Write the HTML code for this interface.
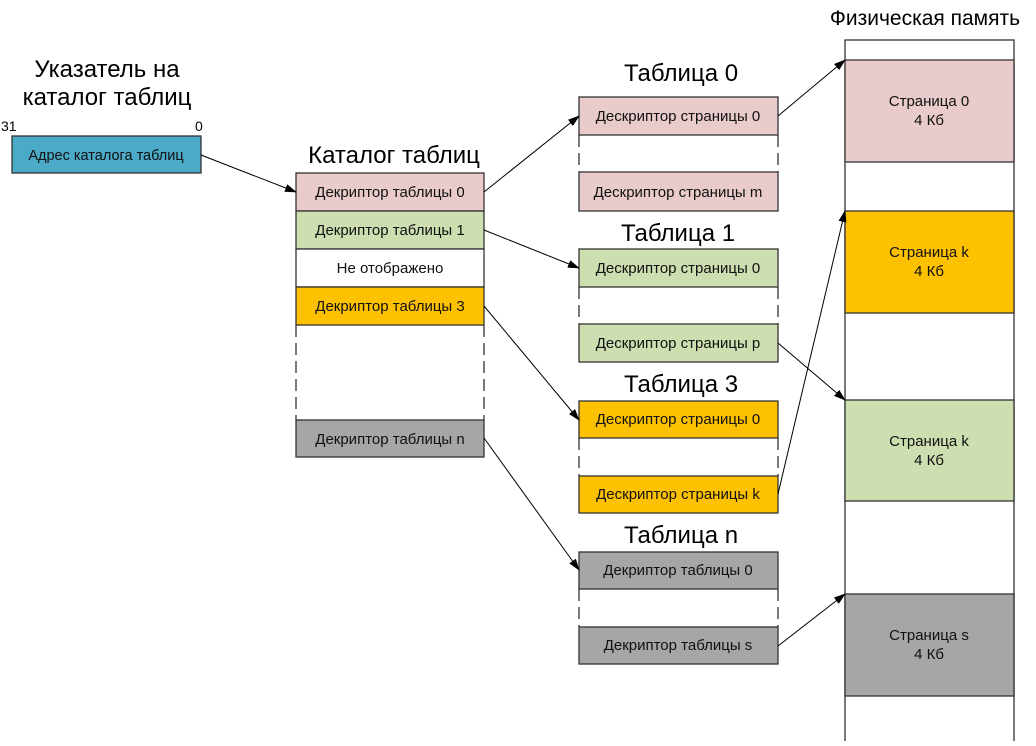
<!DOCTYPE html>
<html><head><meta charset="utf-8"><style>
body{margin:0;background:#fff}
svg text{font-family:"Liberation Sans",sans-serif}
</style></head><body>
<svg width="1036" height="741" xmlns="http://www.w3.org/2000/svg">
<defs><marker id="a" markerWidth="12" markerHeight="8" refX="11" refY="4" orient="auto" markerUnits="userSpaceOnUse"><path d="M0,0 L12,4 L0,8z" fill="#000"/></marker></defs>
<g font-size="24" text-anchor="middle" fill="#000">
<text x="107" y="77">Указатель  на</text>
<text x="107" y="105">каталог таблиц</text>
<text x="394" y="163">Каталог таблиц</text>
<text x="681" y="81">Таблица 0</text>
<text x="678" y="241">Таблица 1</text>
<text x="681" y="392">Таблица 3</text>
<text x="681" y="543">Таблица n</text>
<text x="925" y="25" font-size="21">Физическая память</text>
</g>
<text x="1" y="131" font-size="14">31</text>
<text x="195" y="131" font-size="14">0</text>
<g stroke="#333" stroke-width="1.3">
<rect x="12" y="136" width="189" height="37" fill="#4aaac8"/>
<rect x="296" y="173" width="188" height="38" fill="#e8cbca"/>
<rect x="296" y="211" width="188" height="38" fill="#cddeb0"/>
<rect x="296" y="249" width="188" height="38" fill="#fff"/>
<rect x="296" y="287" width="188" height="38" fill="#fdc100"/>
<rect x="296" y="420" width="188" height="37" fill="#a6a6a6"/>
<rect x="579" y="97" width="199" height="38" fill="#e8cbca"/>
<rect x="579" y="172" width="199" height="39" fill="#e8cbca"/>
<rect x="579" y="249" width="199" height="38" fill="#cddeb0"/>
<rect x="579" y="324" width="199" height="38" fill="#cddeb0"/>
<rect x="579" y="401" width="199" height="37" fill="#fdc100"/>
<rect x="579" y="476" width="199" height="37" fill="#fdc100"/>
<rect x="579" y="552" width="199" height="37" fill="#a6a6a6"/>
<rect x="579" y="627" width="199" height="37" fill="#a6a6a6"/>
<rect x="845" y="40" width="169" height="705" fill="#fff"/>
<rect x="845" y="60" width="169" height="102" fill="#e8cbca"/>
<rect x="845" y="211" width="169" height="102" fill="#fdc100"/>
<rect x="845" y="400" width="169" height="101" fill="#cddeb0"/>
<rect x="845" y="594" width="169" height="102" fill="#a6a6a6"/>
</g>
<g stroke="#333" stroke-width="1.3" stroke-dasharray="12,6">
<path d="M296 325V420M484 325V420M579 135V172M778 135V172M579 287V324M778 287V324M579 438V476M778 438V476M579 589V627M778 589V627"/>
</g>
<g font-size="15" text-anchor="middle" fill="#111">
<text x="390" y="197">Декриптор таблицы 0</text>
<text x="390" y="235">Декриптор таблицы 1</text>
<text x="390" y="273">Не отображено</text>
<text x="390" y="311">Декриптор таблицы 3</text>
<text x="390" y="444">Декриптор таблицы n</text>
<text x="678" y="121">Дескриптор страницы 0</text>
<text x="678" y="197">Дескриптор страницы m</text>
<text x="678" y="273">Дескриптор страницы 0</text>
<text x="678" y="348">Дескриптор страницы p</text>
<text x="678" y="424">Дескриптор страницы 0</text>
<text x="678" y="499">Дескриптор страницы k</text>
<text x="678" y="575">Декриптор таблицы 0</text>
<text x="678" y="650">Декриптор таблицы s</text>
<text x="929" y="106">Страница 0</text><text x="929" y="125">4 Кб</text>
<text x="929" y="257">Страница k</text><text x="929" y="276">4 Кб</text>
<text x="929" y="446">Страница k</text><text x="929" y="465">4 Кб</text>
<text x="929" y="640">Страница s</text><text x="929" y="659">4 Кб</text>
</g>
<text x="106" y="160" font-size="14.5" text-anchor="middle" fill="#111">Адрес каталога таблиц</text>
<g stroke="#000" stroke-width="1" marker-end="url(#a)">
<line x1="201" y1="155" x2="296" y2="192"/>
<line x1="484" y1="192" x2="579" y2="116"/>
<line x1="484" y1="230" x2="579" y2="268"/>
<line x1="484" y1="306" x2="579" y2="420"/>
<line x1="484" y1="438" x2="579" y2="570"/>
<line x1="778" y1="116" x2="845" y2="60"/>
<line x1="778" y1="343" x2="845" y2="400"/>
<line x1="778" y1="494" x2="845" y2="211"/>
<line x1="778" y1="646" x2="845" y2="594"/>
</g>
</svg>
</body></html>
